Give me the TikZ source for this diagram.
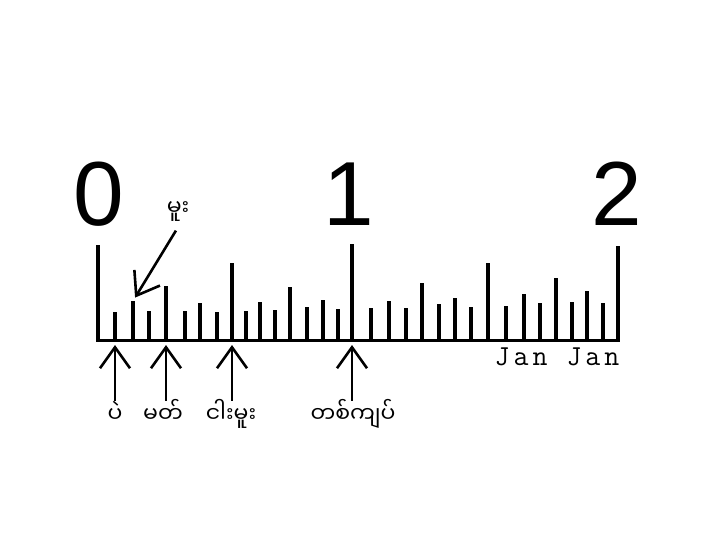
\documentclass[tikz,border=0pt]{standalone}
\usepackage{fontspec}
\setmainfont{Liberation Sans}
\newfontfamily\mmfont[Script=Myanmar]{Noto Sans Myanmar UI}
\newfontfamily\janfont[LetterSpace=14]{Latin Modern Mono}
\usetikzlibrary{arrows.meta}
\tikzset{
  >={Straight Barb[length=21pt,width=30pt]},
  tk/.style={line width=3.2pt},
  num/.style={font=\fontsize{91}{91}\selectfont, inner sep=0pt, anchor=base},
  mm/.style={font=\mmfont\fontsize{22}{26}\selectfont, inner sep=0pt,
    text height=21pt, text depth=6pt, anchor=base},
  up/.style={->, line width=2.6pt, shorten >=5pt}
}

\begin{document}
\begin{tikzpicture}[x=1pt, y=-1pt]
  \useasboundingbox (0,0) rectangle (720,539);
  % ruler edge and ticks
  \draw[line width=3pt] (96,340) coordinate (left) -- (620,340) coordinate (right);
  \foreach \x/\h [count=\i from 0] in {98/95, 115/28, 133/39, 149/29, 166/54,
      185/29, 200/37, 217/28, 232/77, 246/29, 260/38, 275/30, 290/53, 307/33,
      323/40, 338/31, 352/96, 371/32, 389/39, 406/32, 422/57, 439/36, 455/42,
      471/33, 488/77, 506/34, 524/46, 540/37, 556/62, 572/38, 587/49, 603/37,
      618/94}{
    \draw[tk] (\x,340) coordinate (t\i) -- (\x,{340-\h}) coordinate (h\i);
  }
  % numbers
  \node[num] (n0) at (99,225) {0};
  \node[num] (n1) at (349,225) {1};
  \node[num] (n2) at (617,225) {2};
  \node[font=\janfont\fontsize{29}{29}\selectfont, inner sep=0pt, anchor=base]
    (jan) at (557,365) {Jan Jan};
  % labels
  \node[mm, text height=12pt, text depth=12pt] (mu) at (178,215) {မူး};
  \node[mm] (pe) at (115,422) {ပဲ};
  \node[mm] (mat) at (163,422) {မတ်};
  \node[mm] (ngamu) at (231,422) {ငါးမူး};
  \node[mm] (kyat) at (353,422) {တစ်ကျပ်};
  \draw[->, line width=2.6pt, shorten <=4pt, shorten >=4pt] (mu.south) -- (h2);
  \draw[up] (pe.north -| t1) -- (t1);
  \draw[up] (mat.north -| t4) -- (t4);
  \draw[up] (ngamu.north -| t8) -- (t8);
  \draw[up] (kyat.north -| t16) -- (t16);
\end{tikzpicture}
\end{document}
